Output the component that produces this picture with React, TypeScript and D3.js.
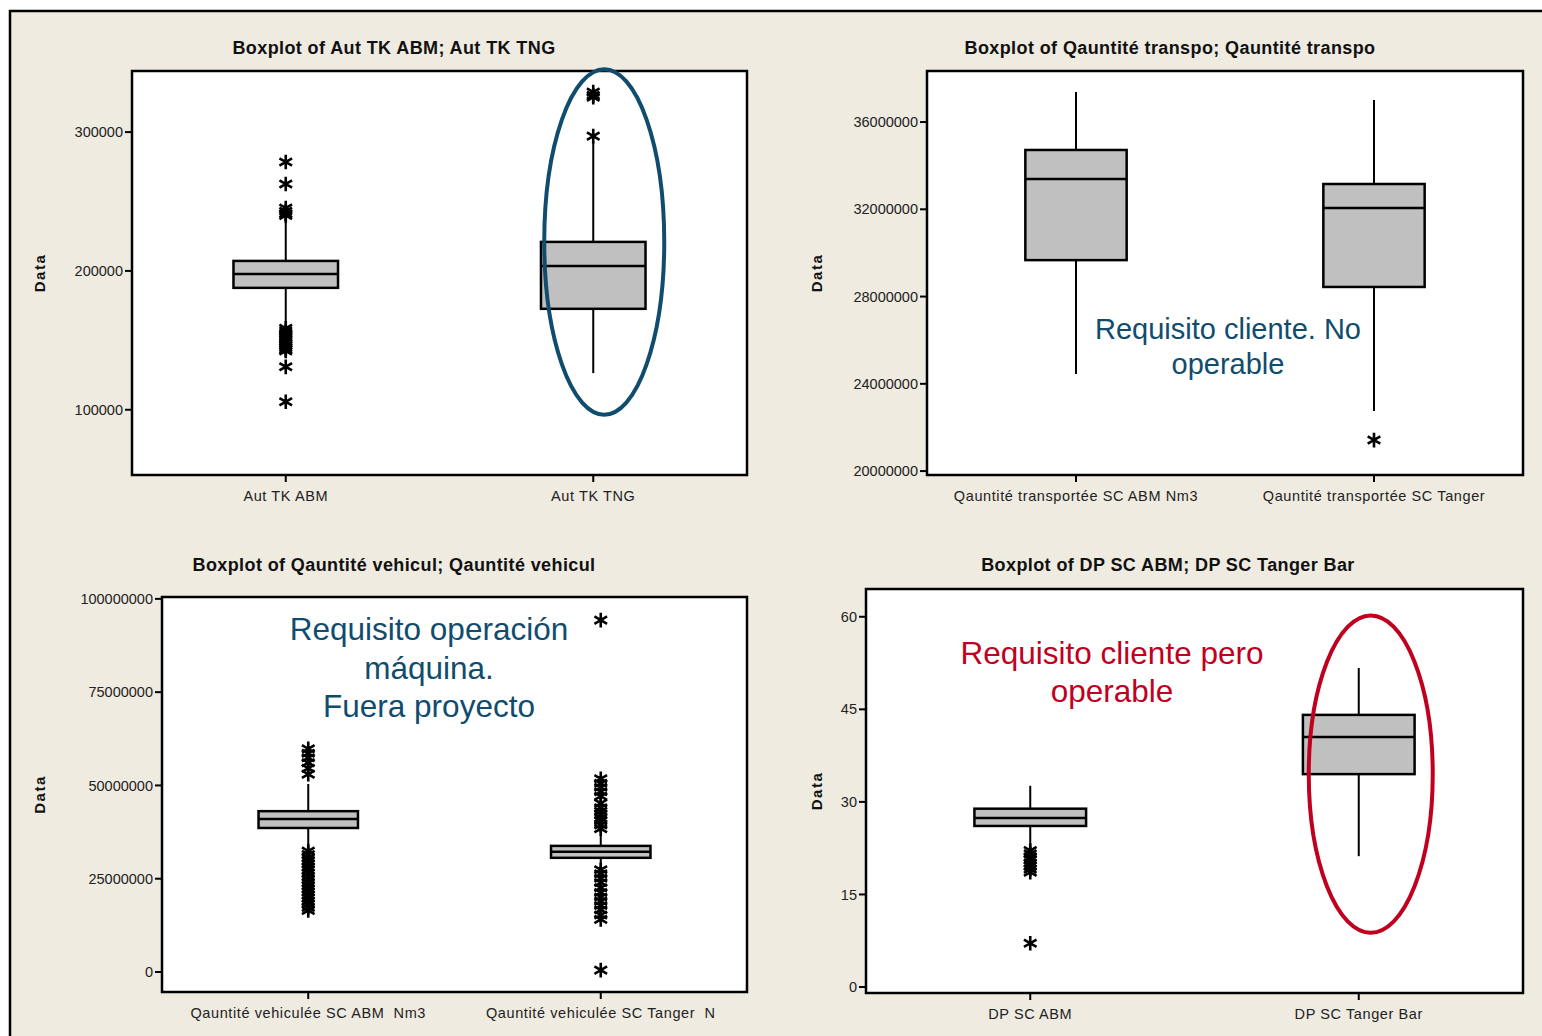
import React from "react";
import * as d3 from "d3";

// --- data (values in data units) ---
const autCats = ["Aut TK ABM", "Aut TK TNG"];
const autStats = [
  { q1: 187800, med: 197800, q3: 207200, lo: 162600, hi: 237400 },
  { q1: 172700, med: 203600, q3: 220900, lo: 126400, hi: 292800 },
];
const autOut = [
  [278400, 262600, 245300, 243000, 241200, 239900, 158600, 156800, 155200, 153700, 152100,
    150500, 149000, 147600, 146200, 144800, 143500, 142300, 130900, 105800],
  [328800, 326500, 325200, 297100],
];
const autTicks = [100000, 200000, 300000];

const transCats = ["Qauntité transportée SC ABM Nm3", "Qauntité transportée SC Tanger"];
const transStats = [
  { q1: 29670000, med: 33390000, q3: 34720000, lo: 24450000, hi: 37380000 },
  { q1: 28440000, med: 32060000, q3: 33160000, lo: 22750000, hi: 37010000 },
];
const transOut = [[], [21420000]];
const transTicks = [20000000, 24000000, 28000000, 32000000, 36000000];

const vehCats = ["Qauntité vehiculée SC ABM  Nm3", "Qauntité vehiculée SC Tanger  N"];
const vehStats = [
  { q1: 38600000, med: 41000000, q3: 43100000, lo: 33200000, hi: 50400000 },
  { q1: 30600000, med: 32200000, q3: 33800000, lo: 27900000, hi: 39900000 },
];
const vehOut = [
  [59800000, 58600000, 57400000, 56100000, 54600000, 53000000,
    32400000, 31500000, 30600000, 29800000, 29000000, 28100000, 27300000, 26500000, 25600000,
    24800000, 23900000, 23100000, 22300000, 21500000, 20600000, 19800000, 19000000, 18200000,
    17300000, 16500000],
  [94300000, 51800000, 50600000, 49500000, 48300000, 47100000, 45200000, 44000000, 43100000,
    42200000, 41300000, 40500000, 39400000, 38400000,
    27400000, 26300000, 25100000, 24000000, 22600000, 21300000, 20100000, 19000000, 17800000,
    16700000, 15300000, 14100000, 500000],
];
const vehTicks = [0, 25000000, 50000000, 75000000, 100000000];

const dpCats = ["DP SC ABM", "DP SC Tanger Bar"];
const dpStats = [
  { q1: 26.1, med: 27.4, q3: 28.9, lo: 22.5, hi: 32.6 },
  { q1: 34.5, med: 40.5, q3: 44.1, lo: 21.2, hi: 51.7 },
];
const dpOut = [[22.1, 21.6, 21.0, 20.6, 20.1, 19.6, 19.1, 18.6, 7.1], []];
const dpTicks = [0, 15, 30, 45, 60];

const BLUE = "#0f4c6e";
const RED = "#c0001e";
const FONT = "'Liberation Sans', Arial, sans-serif";

type Stat = { q1: number; med: number; q3: number; lo: number; hi: number };

type PanelProps = {
  title: string;
  titleX: number;
  titleY: number;
  x0: number; x1: number; y0: number; y1: number;
  domain: [number, number];
  cats: string[];
  stats: Stat[];
  outliers: number[][];
  ticks: number[];
  labelX: number;
  ellipse?: { cat: number; lo: number; hi: number; dx: number; rx: number; color: string };
  note?: { lines: string[]; x: number; y: number; size: number; gap: number; color: string };
};

const star = d3.symbol(d3.symbolAsterisk, 150)();

const Panel = (p: PanelProps) => {
  const y = d3.scaleLinear().domain(p.domain).range([p.y1, p.y0]);
  const x = d3.scalePoint<string>().domain(p.cats).range([p.x0, p.x1]).padding(0.5);
  const bw = (p.x1 - p.x0) * 0.17;
  return (
    <g>
      <text x={p.titleX} y={p.titleY} textAnchor="middle" fontSize={18} fontWeight="bold"
        letterSpacing={0.4} fill="#111" fontFamily={FONT}>{p.title}</text>
      <rect x={p.x0} y={p.y0} width={p.x1 - p.x0} height={p.y1 - p.y0} fill="#fff"
        stroke="#000" strokeWidth={2.5} />
      {p.ticks.map((t) => (
        <g key={t}>
          <line x1={p.x0 - 7} x2={p.x0} y1={y(t)} y2={y(t)} stroke="#000" strokeWidth={2} />
          <text x={p.x0 - 9} y={y(t)} dy="0.35em" textAnchor="end" fontSize={14.5}
            fill="#222" fontFamily={FONT}>{t}</text>
        </g>
      ))}
      <text transform={`translate(${p.labelX},${(p.y0 + p.y1) / 2}) rotate(-90)`} textAnchor="middle"
        dy="0.35em" fontSize={15} fontWeight="bold" letterSpacing={1.5} fill="#111"
        fontFamily={FONT}>Data</text>
      {p.cats.map((c, i) => {
        const cx = x(c) as number;
        const s = p.stats[i];
        return (
          <g key={c}>
            <line x1={cx} x2={cx} y1={p.y1} y2={p.y1 + 7} stroke="#000" strokeWidth={2} />
            <text x={cx} y={p.y1 + 26} textAnchor="middle" fontSize={14.5} letterSpacing={0.6}
              fill="#222" fontFamily={FONT} style={{ whiteSpace: "pre" }}>{c}</text>
            <line x1={cx} x2={cx} y1={y(s.hi)} y2={y(s.q3)} stroke="#000" strokeWidth={2} />
            <line x1={cx} x2={cx} y1={y(s.q1)} y2={y(s.lo)} stroke="#000" strokeWidth={2} />
            <rect x={cx - bw / 2} y={y(s.q3)} width={bw} height={y(s.q1) - y(s.q3)}
              fill="#c0c0c0" stroke="#000" strokeWidth={2.5} />
            <line x1={cx - bw / 2} x2={cx + bw / 2} y1={y(s.med)} y2={y(s.med)} stroke="#000"
              strokeWidth={2.5} />
            {p.outliers[i].map((v, j) => (
              <path key={j} d={star} transform={`translate(${cx},${y(v)})`} fill="none"
                stroke="#000" strokeWidth={2.6} />
            ))}
          </g>
        );
      })}
      {p.ellipse && (
        <ellipse cx={(x(p.cats[p.ellipse.cat]) as number) + p.ellipse.dx}
          cy={(y(p.ellipse.lo) + y(p.ellipse.hi)) / 2} rx={p.ellipse.rx}
          ry={(y(p.ellipse.lo) - y(p.ellipse.hi)) / 2} fill="none" stroke={p.ellipse.color}
          strokeWidth={4} />
      )}
      {p.note && p.note.lines.map((l, k) => (
        <text key={k} x={p.note!.x} y={p.note!.y + k * p.note!.gap} textAnchor="middle"
          dy="0.35em" fontSize={p.note!.size} fill={p.note!.color} fontFamily={FONT}>{l}</text>
      ))}
    </g>
  );
};

const App = () => {
  return (
    <svg width={1542} height={1036} style={{ position: "absolute", left: 0, top: 0 }}>
      <rect x={0} y={0} width={1542} height={1036} fill="#fff" />
      <rect x={10} y={11} width={1560} height={1060} fill="#efebe1" stroke="#000" strokeWidth={2.5} />
      <Panel title="Boxplot of Aut TK ABM; Aut TK TNG" titleX={394} titleY={54} x0={132} x1={747} y0={71}
        y1={475} domain={[53000, 344000]} cats={autCats} stats={autStats} outliers={autOut}
        ticks={autTicks} labelX={40}
        ellipse={{ cat: 1, lo: 96400, hi: 345300, dx: 11, rx: 60, color: BLUE }} />
      <Panel title="Boxplot of Qauntité transpo; Qauntité transpo" titleX={1170} titleY={54} x0={927}
        x1={1523} y0={71} y1={475} domain={[19820000, 38340000]} cats={transCats} stats={transStats}
        outliers={transOut} ticks={transTicks} labelX={817}
        note={{ lines: ["Requisito cliente. No", "operable"], x: 1228, y: 329, size: 29, gap: 35, color: BLUE }} />
      <Panel title="Boxplot of Qauntité vehicul; Qauntité vehicul" titleX={394} titleY={571} x0={162}
        x1={747} y0={597} y1={992} domain={[-5360000, 100500000]} cats={vehCats} stats={vehStats}
        outliers={vehOut} ticks={vehTicks} labelX={40}
        note={{ lines: ["Requisito operación", "máquina.", "Fuera proyecto"], x: 429, y: 629, size: 31.5,
          gap: 38.5, color: BLUE }} />
      <Panel title="Boxplot of DP SC ABM; DP SC Tanger Bar" titleX={1168} titleY={571} x0={866} x1={1523}
        y0={589} y1={993} domain={[-0.97, 64.5]} cats={dpCats} stats={dpStats} outliers={dpOut}
        ticks={dpTicks} labelX={817}
        ellipse={{ cat: 1, lo: 8.8, hi: 60.2, dx: 12, rx: 62, color: RED }}
        note={{ lines: ["Requisito cliente pero", "operable"], x: 1112, y: 653, size: 31.5, gap: 38,
          color: RED }} />
    </svg>
  );
};

export default App;
